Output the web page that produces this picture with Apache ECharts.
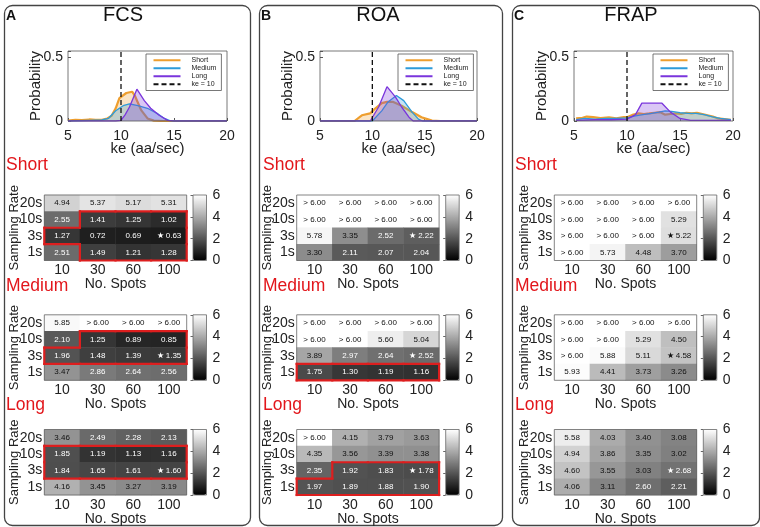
<!DOCTYPE html>
<html lang="en">
<head>
<meta charset="UTF-8">
<title>ke estimates</title>
<script src="https://cdn.jsdelivr.net/npm/echarts@6/dist/echarts.min.js"></script>
<style>html,body{margin:0;padding:0;background:#fff;}</style>
</head>
<body>
<div id="main" style="width:760px;height:527px;"></div>
<script>
// ke distributions, [ke, probability]
var fcsShort = [[5,0.003],[5.7,0.01],[6.3,0.008],[7,0.012],[7.6,0.01],[8.2,0.01],[8.7,0.02],[9.1,0.04],[9.5,0.1],[9.85,0.18],[10.5,0.22],[11.05,0.23],[11.3,0.2],[11.9,0.085],[12.5,0.02],[13.1,0.003],[14,0],[16,0],[20,0]];
var fcsMedium = [[5,0],[7,0.005],[8.2,0.008],[8.8,0.02],[9.5,0.08],[10.2,0.12],[10.8,0.135],[11.6,0.12],[12.5,0.1],[13.4,0.06],[14.1,0.02],[14.6,0.003],[15,0],[20,0]];
var fcsLong = [[5,0],[9.5,0],[10,0.005],[10.4,0.05],[10.8,0.11],[11.5,0.25],[12.2,0.16],[12.8,0.1],[13.6,0.045],[14.4,0.005],[15,0],[20,0]];

var roaShort = [[5,0],[8.3,0],[9,0.045],[9.8,0.06],[10.3,0.1],[10.9,0.14],[11.4,0.15],[12,0.15],[12.8,0.12],[13.8,0.07],[14.7,0.03],[15.7,0.003],[16.5,0],[20,0]];
var roaMedium = [[5,0],[10,0],[10.9,0.08],[11.5,0.15],[12.3,0.2],[13,0.16],[13.8,0.07],[14.4,0.015],[14.8,0],[20,0]];
var roaLong = [[5,0],[9.8,0],[10.6,0.11],[11.4,0.27],[12.2,0.19],[12.8,0.11],[13.5,0.03],[13.9,0],[20,0]];

var frapShort = [[5.2,0.02],[5.8,0.025],[6.2,0.035],[6.8,0.03],[7.5,0.022],[8.3,0.028],[9,0.02],[9.7,0.03],[10,0.03],[10.6,0.05],[11.1,0.06],[11.6,0.055],[12.1,0.06],[12.6,0.065],[13.1,0.07],[13.6,0.05],[14.1,0.055],[14.6,0.06],[15.1,0.055],[15.6,0.065],[16.1,0.06],[16.6,0.065],[17.1,0.055],[17.6,0.045],[18.1,0.035],[18.6,0.02],[19.2,0.015],[19.8,0.01]];
var frapMedium = [[5.2,0.01],[6,0.02],[7,0.015],[8,0.02],[9,0.02],[10,0.025],[10.8,0.04],[11.5,0.05],[12.3,0.06],[13,0.07],[13.6,0.08],[14.2,0.075],[15,0.065],[15.8,0.06],[16.5,0.06],[17.3,0.05],[18,0.035],[18.8,0.02],[19.8,0.01]];
var frapLong = [[5.2,0.005],[7,0.01],[8.5,0.01],[10,0.015],[10.8,0.05],[11.4,0.14],[13.3,0.14],[14.1,0.07],[15,0.02],[16,0.005],[17,0.005],[19.8,0.005]];

var keTrue = 10;

// error maps, rows = sampling rate (20s,10s,3s,1s), cols = no. spots
var spots = ['10', '30', '60', '100'];
var rates = ['20s', '10s', '3s', '1s'];
var GT = '>6';   // shown as "> 6.00"

var fcsShortErr  = [[4.94,5.37,5.17,5.31],[2.55,1.41,1.25,1.02],[1.27,0.72,0.69,0.63],[2.51,1.49,1.21,1.28]];
var fcsMediumErr = [[5.85,GT,GT,GT],[2.10,1.25,0.89,0.85],[1.96,1.48,1.39,1.35],[3.47,2.86,2.64,2.56]];
var fcsLongErr   = [[3.46,2.49,2.28,2.13],[1.85,1.19,1.13,1.16],[1.84,1.65,1.61,1.60],[4.16,3.45,3.27,3.19]];

var roaShortErr  = [[GT,GT,GT,GT],[GT,GT,GT,GT],[5.78,3.35,2.52,2.22],[3.30,2.11,2.07,2.04]];
var roaMediumErr = [[GT,GT,GT,GT],[GT,GT,5.60,5.04],[3.89,2.97,2.64,2.52],[1.75,1.30,1.19,1.16]];
var roaLongErr   = [[GT,4.15,3.79,3.63],[4.35,3.56,3.39,3.38],[2.35,1.92,1.83,1.78],[1.97,1.89,1.88,1.90]];

var frapShortErr  = [[GT,GT,GT,GT],[GT,GT,GT,5.29],[GT,GT,GT,5.22],[GT,5.73,4.48,3.70]];
var frapMediumErr = [[GT,GT,GT,GT],[GT,GT,5.29,4.50],[GT,5.88,5.11,4.58],[5.93,4.41,3.73,3.26]];
var frapLongErr   = [[5.58,4.03,3.40,3.08],[4.94,3.86,3.35,3.02],[4.60,3.55,3.03,2.68],[4.06,3.11,2.60,2.21]];

var starCell = [2, 3]; // row 3s, col 100

// cells boxed in red
var fcsShortBox  = [[0,0,0,0],[0,1,1,1],[1,1,1,1],[0,1,1,1]];
var fcsMediumBox = [[0,0,0,0],[0,1,1,1],[1,1,1,1],[0,0,0,0]];
var fcsLongBox   = [[0,0,0,0],[1,1,1,1],[1,1,1,1],[0,0,0,0]];
var roaMediumBox = [[0,0,0,0],[0,0,0,0],[0,0,0,0],[1,1,1,1]];
var roaLongBox   = [[0,0,0,0],[0,0,0,0],[0,1,1,1],[1,1,1,1]];

var durations = ['Short', 'Medium', 'Long'];
var durColors = ['#EE9E2E', '#2D9BDA', '#7A35DC'];
var durWidth = [2.2, 1.3, 1.3];

// layout
var FONT = '"Liberation Sans", Arial, Helvetica, sans-serif';
var INK = '#222';
var panels = [
    {name: 'FCS', letter: 'A', x0: 2, x1: 248, titleX: 123, distLeft: 68, distW: 159, legLeft: 146, hmLeft: 44.3, cbLeft: 193, labX: 6,
     curves: [fcsShort, fcsMedium, fcsLong], maps: [fcsShortErr, fcsMediumErr, fcsLongErr], boxes: [fcsShortBox, fcsMediumBox, fcsLongBox]},
    {name: 'ROA', letter: 'B', x0: 257, x1: 500, titleX: 378, distLeft: 320, distW: 157, legLeft: 398, hmLeft: 296.7, cbLeft: 445.7, labX: 263,
     curves: [roaShort, roaMedium, roaLong], maps: [roaShortErr, roaMediumErr, roaLongErr], boxes: [null, roaMediumBox, roaLongBox]},
    {name: 'FRAP', letter: 'C', x0: 510, x1: 757, titleX: 631, distLeft: 574, distW: 159, legLeft: 653, hmLeft: 554.3, cbLeft: 703.3, labX: 515,
     curves: [frapShort, frapMedium, frapLong], maps: [frapShortErr, frapMediumErr, frapLongErr], boxes: [null, null, null]}
];
var hmTops = [195, 314.8, 429.5];
var labBase = [174, 295, 414];
var hmW = 142.4, hmH = 65.5, cbW = 13.5;

function outlineItem(mask) {
    return function (params, api) {
        var c = api.value(0), r = api.value(1);
        var p = api.coord([c, r]);
        var s = api.size([1, 1]);
        var x0 = p[0] - s[0] / 2, x1 = p[0] + s[0] / 2, y0 = p[1] - s[1] / 2, y1 = p[1] + s[1] / 2;
        function on(rr, cc) { return rr >= 0 && rr < 4 && cc >= 0 && cc < 4 && mask[rr][cc]; }
        var segs = [];
        if (!on(r - 1, c)) segs.push([x0, y0, x1, y0]);
        if (!on(r + 1, c)) segs.push([x0, y1, x1, y1]);
        if (!on(r, c - 1)) segs.push([x0, y0, x0, y1]);
        if (!on(r, c + 1)) segs.push([x1, y0, x1, y1]);
        return {
            type: 'group',
            children: segs.map(function (g) {
                return {type: 'line', shape: {x1: g[0], y1: g[1], x2: g[2], y2: g[3]},
                        style: {stroke: '#DD1E1E', lineWidth: 2.2, lineCap: 'square'}};
            })
        };
    };
}

var grid = [], xAxis = [], yAxis = [], series = [], legend = [], visualMap = [], graphic = [];

panels.forEach(function (pn, pi) {
    // panel frame + headings
    graphic.push({type: 'rect', left: pn.x0, top: 3, shape: {width: pn.x1 - pn.x0, height: 520, r: 8},
                  style: {fill: 'none', stroke: '#444', lineWidth: 1.3}, z: 0});
    graphic.push({type: 'text', x: pn.x0 + 4, y: 23, style: {text: pn.letter, font: 'bold 14px ' + FONT, fill: '#111', textVerticalAlign: 'bottom'}});
    graphic.push({type: 'text', x: pn.titleX, y: 25, style: {text: pn.name, font: '20px ' + FONT, fill: '#111', textAlign: 'center', textVerticalAlign: 'bottom'}});

    // distribution plot
    var gi = grid.length;
    grid.push({left: pn.distLeft, top: 51, width: pn.distW, height: 70, show: true, z: 5,
               backgroundColor: 'rgba(0,0,0,0)', borderColor: '#555', borderWidth: 0.8});
    xAxis.push({gridIndex: gi, type: 'value', min: 5, max: 20, interval: 5,
                axisLine: {show: false}, splitLine: {show: false},
                axisTick: {inside: true, length: 3, lineStyle: {color: '#555'}},
                axisLabel: {fontSize: 14, margin: 8, color: INK, fontFamily: FONT},
                name: 'ke (aa/sec)', nameLocation: 'middle', nameGap: 20, nameMoveOverlap: false,
                nameTextStyle: {fontSize: 15, color: INK, fontFamily: FONT}});
    yAxis.push({gridIndex: gi, type: 'value', min: 0, max: 0.55, interval: 0.5,
                axisLine: {show: false}, splitLine: {show: false},
                axisTick: {inside: true, length: 3, lineStyle: {color: '#555'}},
                axisLabel: {fontSize: 14, margin: 5, color: INK, fontFamily: FONT,
                            formatter: function (v) { return v === 0 ? '0' : (v === 0.5 ? '0.5' : ''); }},
                name: 'Probability', nameLocation: 'middle', nameGap: 25, nameMoveOverlap: false,
                nameTextStyle: {fontSize: 15, color: INK, fontFamily: FONT}});
    pn.curves.forEach(function (cv, k) {
        series.push({name: durations[k], type: 'line', xAxisIndex: gi, yAxisIndex: gi, data: cv,
                     symbol: 'none', animation: false, z: 2 + k,
                     lineStyle: {color: durColors[k], width: durWidth[k]},
                     itemStyle: {color: durColors[k]},
                     areaStyle: {color: durColors[k], opacity: 0.28}});
    });
    series.push({name: 'ke = 10', type: 'line', xAxisIndex: gi, yAxisIndex: gi,
                 data: [[keTrue, 0], [keTrue, 0.55]], symbol: 'none', animation: false, z: 6,
                 lineStyle: {color: '#111', width: 1.3, type: [5, 3]}, itemStyle: {color: '#111'}});
    legend.push({left: pn.legLeft, top: 54, orient: 'vertical', selectedMode: false,
                 data: ['Short', 'Medium', 'Long', 'ke = 10'],
                 itemWidth: 27, itemHeight: 6, itemGap: 0.5,
                 itemStyle: {opacity: 0},
                 padding: [2.5, 5, 2.5, 6.5], backgroundColor: '#fff', borderColor: '#555', borderWidth: 0.8,
                 textStyle: {fontSize: 7, lineHeight: 7.5, color: INK, fontFamily: FONT, padding: [0, 0, 0, 6]}});

    // error maps
    pn.maps.forEach(function (mat, k) {
        var top = hmTops[k];
        graphic.push({type: 'text', x: pn.labX, y: labBase[k],
                      style: {text: durations[k], font: '17.5px ' + FONT, fill: '#E2161B', textVerticalAlign: 'bottom'}});
        var hi = grid.length;
        grid.push({left: pn.hmLeft, top: top, width: hmW, height: hmH, show: true, z: 5,
                   backgroundColor: 'rgba(0,0,0,0)', borderColor: '#666', borderWidth: 0.8});
        xAxis.push({gridIndex: hi, type: 'category', data: spots, z: 6,
                    axisLine: {show: false}, splitLine: {show: false},
                    axisTick: {inside: true, alignWithLabel: true, length: 2.5, lineStyle: {color: '#666'}},
                    axisLabel: {interval: 0, fontSize: 14, margin: 3, color: INK, fontFamily: FONT},
                    name: 'No. Spots', nameLocation: 'middle', nameGap: 17, nameMoveOverlap: false,
                    nameTextStyle: {fontSize: 14, color: INK, fontFamily: FONT}});
        yAxis.push({gridIndex: hi, type: 'category', data: rates, inverse: true, z: 6,
                    axisLine: {show: false}, splitLine: {show: false},
                    axisTick: {inside: true, alignWithLabel: true, interval: 0, length: 2.5, lineStyle: {color: '#666'}},
                    axisLabel: {interval: 0, fontSize: 14, margin: 2, color: INK, fontFamily: FONT},
                    name: 'Sampling Rate', nameLocation: 'middle', nameGap: 23, nameMoveOverlap: false,
                    nameTextStyle: {fontSize: 13, color: INK, fontFamily: FONT}});
        var data = [], texts = [];
        mat.forEach(function (row, r) {
            row.forEach(function (v, c) {
                var over = (v === GT);
                var num = over ? 6 : v;
                var txt = over ? '> 6.00' : v.toFixed(2);
                if (r === starCell[0] && c === starCell[1]) txt = '\u2605 ' + txt;
                texts.push(txt);
                data.push({value: [c, r, num], label: {color: num >= 3 ? '#111' : '#fff'}});
            });
        });
        var si = series.length;
        series.push({type: 'heatmap', xAxisIndex: hi, yAxisIndex: hi, data: data, animation: false,
                     label: {show: true, fontSize: 8, fontFamily: FONT,
                             formatter: (function (t) { return function (p) { return t[p.dataIndex]; }; })(texts)},
                     emphasis: {disabled: true}});
        visualMap.push({type: 'continuous', seriesIndex: si, min: 0, max: 6, dimension: 2,
                        inRange: {color: ['#000000', '#ffffff']}, orient: 'vertical',
                        left: pn.cbLeft, top: top, itemWidth: cbW, itemHeight: hmH, padding: 0,
                        calculable: false, hoverLink: false, showLabel: false, text: null});
        var mask = pn.boxes[k];
        if (mask) {
            var cells = [];
            mask.forEach(function (row, r) { row.forEach(function (m, c) { if (m) cells.push([c, r]); }); });
            series.push({type: 'custom', xAxisIndex: hi, yAxisIndex: hi, data: cells, z: 8,
                         renderItem: outlineItem(mask), animation: false, silent: true});
        }
        // colorbar frame and ticks
        var ci = grid.length;
        grid.push({left: pn.cbLeft, top: top, width: cbW, height: hmH, show: true, z: 5,
                   backgroundColor: 'rgba(0,0,0,0)', borderColor: '#666', borderWidth: 0.8});
        xAxis.push({gridIndex: ci, type: 'value', show: false, min: 0, max: 1});
        yAxis.push({gridIndex: ci, type: 'value', min: 0, max: 6, interval: 2, position: 'right', z: 6,
                    axisLine: {show: false}, splitLine: {show: false},
                    axisTick: {inside: true, length: 2.5, lineStyle: {color: '#666'}},
                    axisLabel: {fontSize: 14, margin: 6, color: INK, fontFamily: FONT}});
    });
});

var chart = echarts.init(document.getElementById('main'));
chart.setOption({
    backgroundColor: '#fff',
    animation: false,
    textStyle: {fontFamily: FONT},
    grid: grid, xAxis: xAxis, yAxis: yAxis, series: series,
    legend: legend, visualMap: visualMap, graphic: graphic
});
</script>
</body>
</html>
